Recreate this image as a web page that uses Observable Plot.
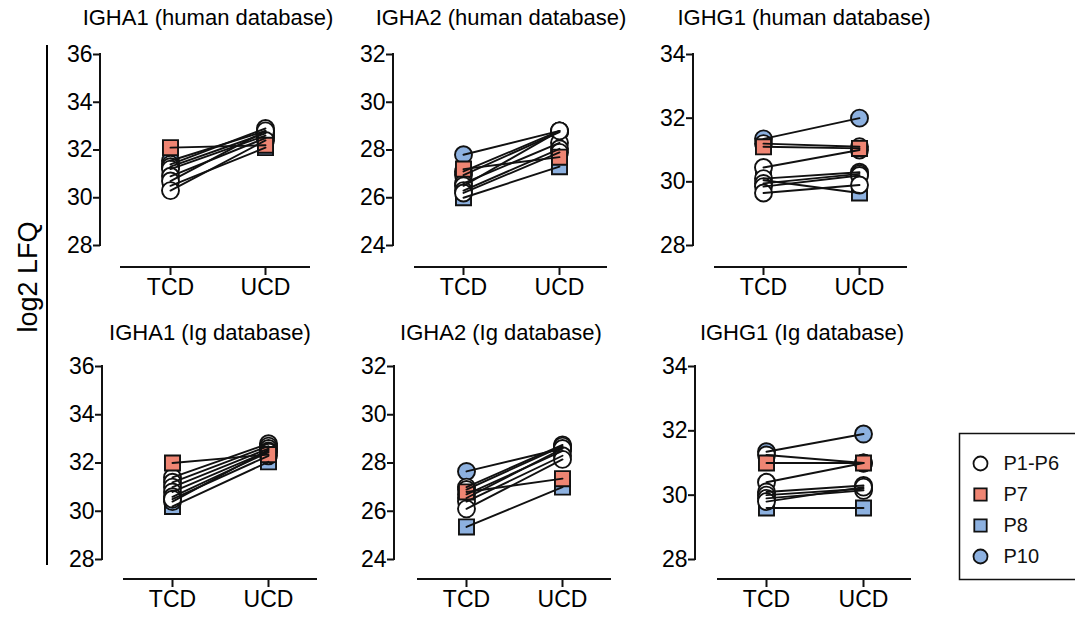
<!DOCTYPE html>
<html>
<head>
<meta charset="utf-8">
<script src="https://cdn.jsdelivr.net/npm/d3@7"></script>
<script src="https://cdn.jsdelivr.net/npm/@observablehq/plot@0.6"></script>
<style>
  body { margin: 0; background: #fff; font-family: "Liberation Sans", Arial, sans-serif; }
  #root { position: relative; width: 1075px; height: 619px; overflow: hidden; background: #fff; }
  .panel-title { position: absolute; font-size: 22px; white-space: nowrap; transform: translate(-50%, -50%); color: #000; }
  .ylabel { position: absolute; font-size: 27px; white-space: nowrap; transform: translate(-50%, -50%) rotate(-90deg); color: #000; }
  .ybar { position: absolute; background: #000; }
  svg.plot-panel { position: absolute; }
</style>
</head>
<body>
<div id="root"></div>
<script>
// Subjects, in the order used by every value array below
const subjects = ["P1", "P2", "P3", "P4", "P5", "P6", "P7", "P8", "P10"];
const subjectGroups = ["P1-P6", "P1-P6", "P1-P6", "P1-P6", "P1-P6", "P1-P6", "P7", "P8", "P10"];
const groups = ["P1-P6", "P7", "P8", "P10"];
const groupSymbols = ["circle", "square", "square", "circle"];
const groupFills = ["#ffffff", "#EF8573", "#8DB1E0", "#8DB1E0"];
const conditions = ["TCD", "UCD"];

const panelTitles = [
  "IGHA1 (human database)", "IGHA2 (human database)", "IGHG1 (human database)",
  "IGHA1 (Ig database)", "IGHA2 (Ig database)", "IGHG1 (Ig database)"
];
const yDomains = [[28, 36], [24, 32], [28, 34], [28, 36], [24, 32], [28, 34]];
const yTicks = [
  [28, 30, 32, 34, 36], [24, 26, 28, 30, 32], [28, 30, 32, 34],
  [28, 30, 32, 34, 36], [24, 26, 28, 30, 32], [28, 30, 32, 34]
];

// log2 LFQ per subject (P1..P6, P7, P8, P10)
const igha1HumanTCD = [31.4, 31.3, 31.2, 30.9, 30.7, 30.3, 32.1, 30.5, 31.55];
const igha1HumanUCD = [32.9, 32.7, 32.6, 32.5, 32.8, 32.4, 32.2, 32.1, 32.8];
const igha2HumanTCD = [27.1, 26.95, 26.6, 26.5, 26.3, 26.2, 27.2, 26.0, 27.8];
const igha2HumanUCD = [28.8, 28.75, 28.3, 28.8, 28.05, 27.9, 27.7, 27.3, 28.8];
const ighg1HumanTCD = [31.2, 30.45, 30.1, 29.95, 29.85, 29.65, 31.1, 30.05, 31.35];
const ighg1HumanUCD = [31.1, 31.0, 30.3, 30.25, 30.2, 29.9, 31.05, 29.65, 32.0];
const igha1IgTCD = [31.4, 31.2, 31.0, 30.8, 30.6, 30.5, 32.0, 30.2, 30.4];
const igha1IgUCD = [32.8, 32.7, 32.6, 32.5, 32.45, 32.3, 32.35, 32.05, 32.55];
const igha2IgTCD = [27.0, 26.9, 26.7, 26.55, 26.4, 26.1, 26.8, 25.35, 27.65];
const igha2IgUCD = [28.75, 28.7, 28.5, 28.6, 28.3, 28.15, 27.35, 27.0, 28.6];
const ighg1IgTCD = [31.25, 30.4, 30.1, 30.0, 29.9, 29.8, 31.0, 29.6, 31.35];
const ighg1IgUCD = [31.0, 31.0, 30.3, 30.2, 30.15, 30.25, 31.0, 29.6, 31.9];

const panelTCD = [igha1HumanTCD, igha2HumanTCD, ighg1HumanTCD, igha1IgTCD, igha2IgTCD, ighg1IgTCD];
const panelUCD = [igha1HumanUCD, igha2HumanUCD, ighg1HumanUCD, igha1IgUCD, igha2IgUCD, ighg1IgUCD];

// Page layout of each panel (pixels)
const layout = [
  {axisX: 100, tcdX: 170, ucdX: 265, lineStart: 120, lineEnd: 310, yTop: 54,  yBottom: 245, xAxisY: 267, titleX: 208, titleY: 18},
  {axisX: 393, tcdX: 463, ucdX: 559, lineStart: 414, lineEnd: 607, yTop: 54,  yBottom: 245, xAxisY: 267, titleX: 501, titleY: 18},
  {axisX: 693, tcdX: 763, ucdX: 859, lineStart: 714, lineEnd: 907, yTop: 54,  yBottom: 245, xAxisY: 267, titleX: 804, titleY: 18},
  {axisX: 102, tcdX: 172, ucdX: 268, lineStart: 123, lineEnd: 317, yTop: 366, yBottom: 559, xAxisY: 579, titleX: 210, titleY: 333},
  {axisX: 394, tcdX: 466, ucdX: 562, lineStart: 417, lineEnd: 611, yTop: 366, yBottom: 559, xAxisY: 579, titleX: 501, titleY: 333},
  {axisX: 695, tcdX: 766, ucdX: 863, lineStart: 717, lineEnd: 911, yTop: 366, yBottom: 559, xAxisY: 579, titleX: 802, titleY: 333}
];

// Draw order: blue groups underneath, then P1-P6, with P7 on top
const drawOrder = ["P8", "P10", "P1-P6", "P7"];

const root = document.getElementById("root");

function addDiv(cls, text, x, y) {
  const d = document.createElement("div");
  d.className = cls;
  d.textContent = text;
  d.style.left = x + "px";
  d.style.top = y + "px";
  root.appendChild(d);
  return d;
}

// Offset axis lines: vertical y axis spanning the domain, detached x axis line
function axisLines(lo, hi, startOffset) {
  return (index, scales, values, dims) => {
    const g = d3.create("svg:g")
      .attr("stroke", "#111")
      .attr("stroke-width", 2)
      .attr("fill", "none");
    const x0 = dims.marginLeft;
    g.append("line")
      .attr("x1", x0).attr("x2", x0)
      .attr("y1", scales.y(hi) - 1).attr("y2", scales.y(lo) + 1);
    const yb = dims.height - dims.marginBottom;
    g.append("line")
      .attr("x1", x0 + startOffset).attr("x2", dims.width - dims.marginRight)
      .attr("y1", yb).attr("y2", yb);
    return g.node();
  };
}

panelTitles.forEach((title, p) => {
  const L = layout[p];
  const rows = [];
  drawOrder.forEach(grp => {
    subjects.forEach((s, i) => {
      if (subjectGroups[i] !== grp) return;
      rows.push({subject: s, group: grp, cond: conditions[0], value: panelTCD[p][i]});
      rows.push({subject: s, group: grp, cond: conditions[1], value: panelUCD[p][i]});
    });
  });

  const marginLeft = 60, marginTop = 20, marginBottom = 44, marginRight = 10;
  const svgLeft = L.axisX - marginLeft;
  const svgTop = L.yTop - marginTop;
  const width = L.lineEnd + marginRight - svgLeft;
  const height = L.xAxisY + marginBottom - svgTop;
  const [lo, hi] = yDomains[p];

  const chart = Plot.plot({
    width, height, marginLeft, marginTop, marginBottom, marginRight,
    style: {fontFamily: "'Liberation Sans', Arial, sans-serif", fontSize: "23px", background: "transparent", overflow: "visible", color: "#000"},
    x: {type: "point", domain: conditions, range: [L.tcdX - svgLeft, L.ucdX - svgLeft], padding: 0},
    y: {domain: yDomains[p], insetBottom: L.xAxisY - L.yBottom},
    symbol: {domain: groups, range: groupSymbols},
    color: {domain: groups, range: groupFills},
    marks: [
      axisLines(lo, hi, L.lineStart - L.axisX),
      Plot.axisY({ticks: yTicks[p], tickSize: 7, tickPadding: 1, strokeWidth: 2, stroke: "#111", label: null, tickFormat: d3.format("d")}),
      Plot.axisX({tickSize: 8, tickPadding: 3, strokeWidth: 2, stroke: "#111", label: null}),
      Plot.dot(rows, {x: "cond", y: "value", symbol: "group", fill: "group", stroke: "#111", strokeWidth: 1.9, r: 8.5}),
      Plot.line(rows, {x: "cond", y: "value", z: "subject", stroke: "#111", strokeWidth: 1.9})
    ]
  });
  chart.classList.add("plot-panel");
  chart.style.left = svgLeft + "px";
  chart.style.top = svgTop + "px";
  chart.style.maxWidth = "none";
  root.appendChild(chart);

  addDiv("panel-title", title, L.titleX, L.titleY);
});

// Shared y-axis label with its bracket line
addDiv("ylabel", "log2 LFQ", 28, 277);
const bar = document.createElement("div");
bar.className = "ybar";
Object.assign(bar.style, {left: "46px", top: "45px", width: "2px", height: "520px"});
root.appendChild(bar);

// Legend box
const legend = Plot.plot({
  width: 140, height: 148,
  marginLeft: 1, marginRight: 1, marginTop: 1, marginBottom: 1,
  style: {fontFamily: "'Liberation Sans', Arial, sans-serif", fontSize: "20px", background: "transparent", overflow: "visible", color: "#000"},
  x: {axis: null, domain: [0, 140], range: [0, 140]},
  y: {type: "point", domain: groups, range: [31, 124], padding: 0, axis: null},
  symbol: {domain: groups, range: groupSymbols},
  color: {domain: groups, range: groupFills},
  marks: [
    Plot.frame({stroke: "#111", strokeWidth: 1.5}),
    Plot.dot(groups, {x: () => 22, y: d => d, symbol: d => d, fill: d => d, stroke: "#111", strokeWidth: 1.8, r: 7}),
    Plot.text(groups, {x: () => 45, y: d => d, text: d => d, textAnchor: "start", fill: "#111", fontSize: 20})
  ]
});
legend.classList.add("plot-panel");
legend.style.left = "958px";
legend.style.top = "432px";
legend.style.maxWidth = "none";
root.appendChild(legend);
</script>
</body>
</html>
